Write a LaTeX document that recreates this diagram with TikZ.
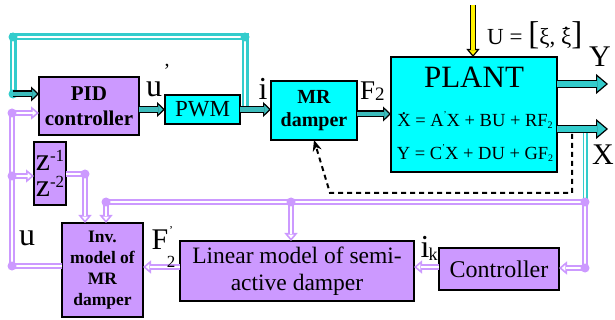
\documentclass[tikz,border=0pt]{standalone}
\usepackage{fontspec}
\setmainfont{Liberation Serif}
\usetikzlibrary{arrows.meta}
\definecolor{purp}{HTML}{CC99FF}
\definecolor{cyanb}{HTML}{00FFFF}
\definecolor{tealA}{HTML}{3CBCBC}
\definecolor{loopc}{HTML}{33CCCC}
\definecolor{outc}{HTML}{33CCCC}
\newcommand{\fs}[1]{\fontsize{#1}{#1}\selectfont}
\newcommand{\dotacc}[2]{{\ooalign{#2\cr\hidewidth\raisebox{#1}{.}\hidewidth\cr}}}
\tikzset{
  blk/.style={draw=black, line width=1.8pt, anchor=north west, inner sep=0pt, outer sep=0pt, align=center},
  pblk/.style={blk, fill=purp},
  cblk/.style={blk, fill=cyanb},
  barrow/.style n args={6}{draw=black, line width=#2, -{Triangle[length=#4,width=#5,line width=1.2pt,fill=#1]}, postaction={draw=#1, line width=#3, shorten >=#6, -}},
  tarrow/.style={barrow={tealA}{7pt}{4.4pt}{8pt}{15pt}{7pt}},
  oarrow/.style={barrow={outc}{8pt}{5.4pt}{12pt}{20pt}{11pt}},
  yarrow/.style={barrow={yellow}{6pt}{3.6pt}{8pt}{13pt}{7pt}},
  parrow/.style={draw=purp, line width=6pt, -{Triangle[length=8pt,width=13pt,line width=1.6pt,fill=white]}, postaction={draw=white, line width=2.2pt, shorten >=6.5pt, -}},
  pline/.style={draw=purp, line width=6pt, postaction={draw=white, line width=2.2pt}},
  cloop/.style={draw=loopc, line width=7pt, postaction={draw=white, line width=2pt}},
  cthin/.style={draw=loopc, line width=5pt, postaction={draw=white, line width=1.6pt}},
  pdot/.style={circle, fill=purp, inner sep=0pt, minimum size=9pt},
  cdot/.style={circle, fill=loopc, inner sep=0pt, minimum size=9pt},
  lbl/.style={anchor=base, inner sep=0pt},
  fbk/.style={draw=black, line width=2pt, dash pattern=on 5pt off 4pt, -{Stealth[length=11pt,width=9pt]}},
}
\begin{document}
\begin{tikzpicture}[x=1pt,y=-1pt]
\fill[white] (0,0) rectangle (615,320);
\useasboundingbox (0,0) rectangle (615,320);
% blocks
\node[pblk, minimum width=100pt, minimum height=58pt, font=\fontsize{21}{25}\selectfont\bfseries] (pid) at (39,77) {PID\\controller};
\node[cblk, minimum width=75pt, minimum height=29pt, font=\fs{23}] (pwm) at (165,95) {PWM};
\node[cblk, minimum width=86pt, minimum height=59pt, font=\fontsize{20}{23}\selectfont\bfseries] (mr) at (271,81) {MR\\damper};
\node[cblk, minimum width=166pt, minimum height=115pt] (plant) at (391,57) {};
\node[pblk, minimum width=32pt, minimum height=63pt, font=\fontsize{32}{26}\selectfont] (zb) at (34,142) {z\raisebox{9pt}{\fs{17}-1}\\z\raisebox{9pt}{\fs{17}-2}};
\node[pblk, minimum width=81pt, minimum height=94pt, font=\fontsize{17.5}{21}\selectfont\bfseries] (inv) at (62,223) {Inv.\\model of\\MR\\damper};
\node[pblk, minimum width=234pt, minimum height=60pt, font=\fontsize{23.5}{27}\selectfont] (lin) at (180,241) {Linear model of semi-\\active damper};
\node[pblk, minimum width=120pt, minimum height=42pt, font=\fs{24}] (ctrl) at (439,248) {Controller};
% plant texts
\node[font=\fs{31}, inner sep=0pt] (tP) at (474,77) {PLANT};
\node[lbl, font=\fs{18.5}] (eq1) at (475,127) {\dotacc{12pt}{X} = A\raisebox{9pt}{\fs{9}’}X + BU + RF\raisebox{-2pt}{\fs{10}2}};
\node[lbl, font=\fs{18.5}] (eq2) at (475,160) {Y = C\raisebox{9pt}{\fs{9}’}X + DU + GF\raisebox{-2pt}{\fs{10}2}};
% cyan feedback loop
\coordinate (lpA) at (245,37);
\coordinate (lpB) at (13,37);
\coordinate (lpC) at (13,94);
\coordinate (lpS) at (245,108);
\draw[cloop] (lpS) -- (lpA) -- (lpB) -- (lpC);
\node[cdot] (dA) at (lpA) {};
\node[cdot] (dB) at (lpB) {};
\node[cdot] (dC) at (lpC) {};
\draw[tarrow] (lpC) -- (lpC -| pid.west);
\draw[tarrow] (pid.east |- pwm.west) -- (pwm.west);
\draw[tarrow] (pwm.east) -- (pwm.east -| mr.west);
\coordinate (m1) at (357,114);
\draw[tarrow] (m1 -| mr.east) -- (m1 -| plant.west);
% yellow input
\coordinate (uT) at (473,5);
\draw[yarrow] (uT) -- (uT |- plant.north);
% purple network
\coordinate (pin) at (12,113);
\coordinate (ul) at (12,266);
\coordinate (zbr) at (12,176);
\draw[parrow] (ul -| inv.west) -- (ul) -- (pin) -- (pin -| pid.west);
\draw[parrow] (zbr) -- (zbr -| zb.west);
\node[pdot] (dP1) at (pin) {};
\node[pdot] (dP2) at (ul) {};
\node[pdot] (dP3) at (zbr) {};
\coordinate (zj) at (85,174);
\draw[parrow] (zj -| zb.east) -- (zj) -- (zj |- inv.north);
\node[pdot] (dP4) at (zj) {};
\coordinate (tl) at (106,202);
\coordinate (tm) at (291,202);
\coordinate (tr) at (585,202);
\coordinate (cr) at (585,268);
\coordinate (xs) at (585,132);
\draw[cthin] (xs) -- (tr);
\draw[pline] (tl) -- (tr);
\draw[parrow] (tl) -- (tl |- inv.north);
\draw[parrow] (tm) -- (tm |- lin.north);
\draw[parrow] (tr) -- (cr) -- (cr -| ctrl.east);
\node[pdot] (dP5) at (tl) {};
\node[pdot] (dP6) at (tm) {};
\node[pdot] (dP7) at (tr) {};
\node[pdot] (dP8) at (cr) {};
\coordinate (ay) at (0,267);
\draw[parrow] (ctrl.west |- ay) -- (lin.east |- ay);
\draw[parrow] (lin.west |- ay) -- (inv.east |- ay);
% dashed feedback
\coordinate (fA) at (572,134);
\coordinate (fB) at (572,193);
\coordinate (fC) at (330,193);
\draw[fbk] (fA) -- (fB) -- (fC) -- (mr.south);
% outputs
\coordinate (yE) at (608,84);
\draw[oarrow] (yE -| plant.east) -- (yE);
\coordinate (xE) at (608,129);
\draw[oarrow] (xE -| plant.east) -- (xE);
% labels
\node[lbl, font=\fs{32}] (lu1) at (154,97) {u};
\node[lbl, font=\fs{20}] (lu1p) at (167,78) {’};
\node[lbl, font=\fs{32}] (li) at (263,100) {i};
\node[lbl, anchor=base west, font=\fs{27}] (lF2) at (360,100) {F\raisebox{-1pt}{\fs{19}2}};
\node[lbl, anchor=base west, font=\fs{23}] (lU) at (487,45) {U = {\fs{33}[}ξ, \dotacc{15pt}{ξ}{\fs{33}]}};
\node[lbl, font=\fs{30}] (lY) at (600,67) {Y};
\node[lbl, font=\fs{30}] (lX) at (603,165) {X};
\node[lbl, font=\fs{32}] (lu2) at (27,245) {u};
\node[lbl, font=\fs{30}] (lF) at (160,250) {F};
\node[lbl, font=\fs{17}] (lFs) at (171,267) {2};
\node[lbl, font=\fs{12}] (lFp) at (171,235) {’};
\node[lbl, font=\fs{32}] (li2) at (425,257) {i};
\node[lbl, font=\fs{18}] (lk) at (433,260) {k};
\end{tikzpicture}
\end{document}
